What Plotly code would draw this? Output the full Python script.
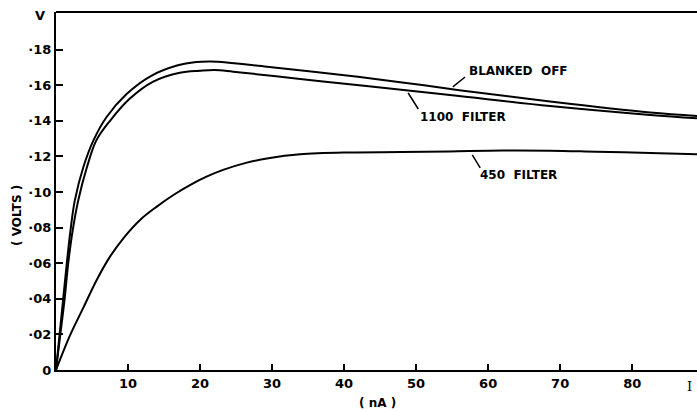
import plotly.graph_objects as go

# Blanked off
bo_x = [0, 0.5, 1.0, 1.5, 2.0, 2.6, 3.8, 5.2, 7.0, 9.8, 13.1, 16.8, 19.5, 21.5, 23.7, 29.3, 38.5, 47.8, 56, 68.6, 82.5, 89]
bo_y = [0, 0.02, 0.04, 0.06, 0.078, 0.095, 0.114, 0.129, 0.142, 0.155, 0.165, 0.171, 0.173, 0.1733, 0.1728, 0.1704, 0.1663, 0.1617, 0.1572, 0.1508, 0.1446, 0.1427]
# 1100 filter
f1100_x = [0, 0.6, 1.2, 1.7, 2.3, 3.1, 4.3, 5.6, 7.5, 10.3, 13.5, 17.2, 20, 22, 24.6, 33.9, 43.1, 54.7, 68.6, 82.5, 89]
f1100_y = [0, 0.02, 0.04, 0.06, 0.078, 0.0955, 0.114, 0.129, 0.140, 0.1526, 0.162, 0.167, 0.1681, 0.1685, 0.1676, 0.1635, 0.1595, 0.1545, 0.1483, 0.1433, 0.1414]
# 450 filter
f450_x = [0, 1.9, 3.8, 5.65, 7.5, 9.35, 11.67, 14, 16.3, 18.6, 20.9, 23.2, 26.5, 29.5, 33.9, 40.8, 48, 54.7, 62, 68.6, 75, 82.5, 89]
f450_y = [0, 0.019, 0.035, 0.0506, 0.0637, 0.074, 0.0843, 0.0918, 0.0983, 0.1039, 0.1086, 0.1124, 0.1165, 0.119, 0.1212, 0.1222, 0.1224, 0.1228, 0.1233, 0.1232, 0.1226, 0.1219, 0.1212]

y_ticks = [0, 0.02, 0.04, 0.06, 0.08, 0.10, 0.12, 0.14, 0.16, 0.18]
y_tick_labels = ["0", "·02", "·04", "·06", "·08", "·10", "·12", "·14", "·16", "·18"]
x_ticks = [10, 20, 30, 40, 50, 60, 70, 80]
x_tick_labels = ["10", "20", "30", "40", "50", "60", "70", "80"]

FONT = "DejaVu Sans"
fig = go.Figure()
for xs, ys in [(bo_x, bo_y), (f1100_x, f1100_y), (f450_x, f450_y)]:
    fig.add_trace(go.Scatter(x=xs, y=ys, mode="lines",
                             line=dict(color="black", width=2, shape="spline", smoothing=1.0),
                             showlegend=False, hoverinfo="skip"))

tick_font = dict(family=FONT, size=13, weight="bold", color="black")
fig.update_layout(
    width=697, height=411,
    margin=dict(l=56, r=0, t=12, b=41),
    paper_bgcolor="white", plot_bgcolor="white",
    font=dict(family=FONT, size=12, color="black"),
    xaxis=dict(range=[0, 89], showgrid=False, zeroline=False, showline=True,
               linecolor="black", linewidth=2, ticks="inside", ticklen=6,
               tickwidth=2, tickcolor="black", tickvals=x_ticks, ticktext=x_tick_labels,
               tickfont=tick_font),
    yaxis=dict(range=[0, 0.2011], showgrid=False, zeroline=False, showline=True,
               linecolor="black", linewidth=2, ticks="inside", ticklen=7,
               tickwidth=2, tickcolor="black", tickvals=y_ticks, ticktext=y_tick_labels,
               tickfont=tick_font),
)

# top frame line
fig.add_shape(type="line", xref="paper", yref="paper", x0=0, x1=1, y0=1, y1=1,
              line=dict(color="black", width=2))

ann_font = dict(family=FONT, size=12, color="black", weight="bold")
fig.add_annotation(x=57.1, y=0.168, text="BLANKED  OFF", showarrow=False, xanchor="left", yanchor="middle", font=ann_font)
fig.add_annotation(x=50.3, y=0.142, text="1100  FILTER", showarrow=False, xanchor="left", yanchor="middle", font=ann_font)
fig.add_annotation(x=58.6, y=0.1096, text="450  FILTER", showarrow=False, xanchor="left", yanchor="middle", font=ann_font)

for x0, y0, x1, y1 in [(55.1, 0.1590, 56.8, 0.1646), (48.9, 0.1556, 50.3, 0.1466), (57.8, 0.1208, 58.9, 0.1135)]:
    fig.add_shape(type="line", x0=x0, y0=y0, x1=x1, y1=y1, line=dict(color="black", width=1.5))

fig.add_annotation(xref="paper", yref="paper", x=-0.025, y=0.989, text="V", showarrow=False,
                   xanchor="center", yanchor="middle", font=dict(family=FONT, size=13, color="black", weight="bold"))
fig.add_annotation(xref="paper", yref="paper", x=0.989, y=-0.047, text="I", showarrow=False,
                   xanchor="center", yanchor="middle", font=dict(family="DejaVu Serif", size=13, color="black"))
fig.add_annotation(xref="paper", yref="paper", x=0.502, y=-0.092, text="( nA )", showarrow=False,
                   xanchor="center", yanchor="middle", font=ann_font)
fig.add_annotation(xref="paper", yref="paper", x=-0.061, y=0.433, text="( VOLTS )", showarrow=False,
                   xanchor="center", yanchor="middle", textangle=-90, font=ann_font)

fig.write_html("out.html")
